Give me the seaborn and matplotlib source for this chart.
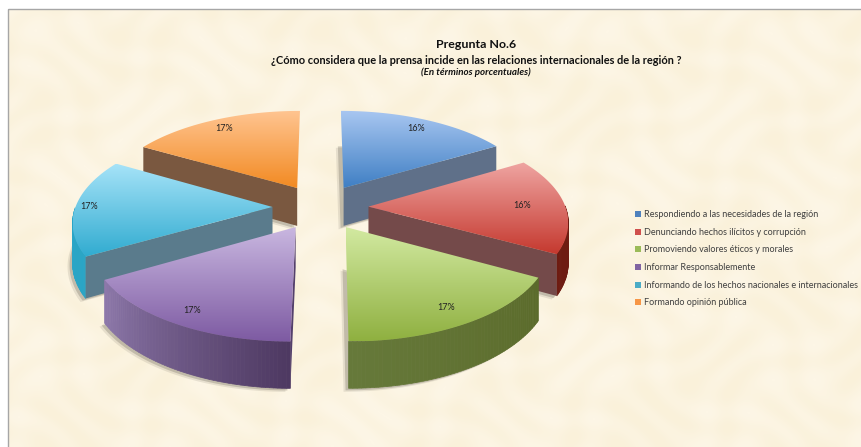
import numpy as np
import matplotlib
matplotlib.use("Agg")
import matplotlib.pyplot as plt
from matplotlib.patches import Polygon, Rectangle
import seaborn as sns

# Data
categories = [
    "Respondiendo a las necesidades de la región",
    "Denunciando hechos ilícitos y corrupción",
    "Promoviendo valores éticos y morales",
    "Informar Responsablemente",
    "Informando de los hechos nacionales e internacionales",
    "Formando opinión pública",
]
values = [16.49, 16.49, 17.1, 16.6, 16.66, 16.66]

top_light = ["#a9c7f1", "#efa5a2", "#d3eaa2", "#c9b7e0", "#a6e3f8", "#ffc592"]
top_dark = ["#3f7fc4", "#c5392f", "#8fb040", "#7d5aa2", "#30abd0", "#f28a22"]
face_colors = ["#5f7089", "#744a4a", "#5e6e2d", "#54406c", "#5a7b8c", "#7a5840"]
rim_start = ["#5f7089", "#6e1c12", "#5b6b2b", "#4e3962", "#2aa5c6", "#7a5840"]
rim_end = ["#5f7089", "#6e1c12", "#66793a", "#8d78aa", "#2aa5c6", "#7a5840"]
legend_colors = ["#4f81bd", "#d0504d", "#9bbb59", "#8064a2", "#4bacc6", "#f79646"]
label_radius = [0.86, 0.78, 0.85, 0.88, 0.93, 0.86]

# Pie geometry, pixels of the picture
center_x, center_y = 320.5, 207
radius, explode, depth = 197, 48, 39
tilt, persp = 0.47, 0.0007


def project(x, y):
    w = 1 + persp * y
    return center_x + x / w, center_y - tilt * y / w


def drop(y):
    return depth / (1 + persp * y)


sns.set_theme(style="white")
plt.rcParams["font.family"] = ["Lato", "DejaVu Sans"]

fig = plt.figure(figsize=(8.62, 4.47), dpi=100, facecolor="white")
ax = fig.add_axes([0, 0, 1, 1])
ax.axis("off")

# parchment background, faint mottling
gx, gy = np.meshgrid(np.arange(8, 862), np.arange(9, 447))
mottle = np.sin(gx / 13.0 + np.sin(gy / 19.0) * 2) * np.sin(gy / 11.0 + np.sin(gx / 23.0) * 2)
paper = sns.blend_palette(["#faf1da", "#fdf6e6"], as_cmap=True)
ax.imshow(mottle, cmap=paper, aspect="auto", extent=[8, 862, 447, 9], zorder=0)
ax.add_patch(Rectangle((8, 9), 870, 450, facecolor="none", edgecolor="#a6a6a6", lw=1, zorder=0.5))

shares = np.array(values) / sum(values) * 360
ends = np.cumsum(shares)
starts = ends - shares

# back slices first so the front ones overlap them
order = [5, 0, 4, 1, 3, 2]
z = 1
for i in order:
    a0, a1 = np.radians(starts[i]), np.radians(ends[i])
    mid = (a0 + a1) / 2
    ox, oy = explode * np.sin(mid), explode * np.cos(mid)
    t = np.linspace(a0, a1, 60)
    wx = ox + radius * np.sin(t)
    wy = oy + radius * np.cos(t)
    px, py = project(wx, wy)
    ax0, ay0 = project(ox, oy)
    d0 = drop(oy)
    dr = drop(wy)

    # soft shadow under the slice
    top_pts = np.column_stack([np.r_[ax0, px], np.r_[ay0, py]])
    low_pts = top_pts + np.column_stack([np.zeros(61), np.r_[d0, dr]])
    for off, alpha in [(5, 0.15), (3, 0.3)]:
        ax.add_patch(Polygon(low_pts + [-off, off * 0.7], facecolor="#6f6a5c", edgecolor="none", alpha=alpha, zorder=z))
    z += 1

    # rim, only the part that faces the viewer
    rim_pal = sns.blend_palette([rim_start[i], rim_end[i]], 59)
    for k in range(59):
        if np.cos((t[k] + t[k + 1]) / 2) < 0:
            quad = [(px[k], py[k]), (px[k + 1], py[k + 1]),
                    (px[k + 1], py[k + 1] + dr[k + 1]), (px[k], py[k] + dr[k])]
            ax.add_patch(Polygon(quad, facecolor=rim_pal[k], edgecolor=rim_pal[k], lw=0.5, zorder=z))
    z += 1

    # cut faces
    if np.sin(a1) > 0:
        k = -1
    elif np.sin(a0) < 0:
        k = 0
    else:
        k = None
    if k is not None:
        quad = [(ax0, ay0), (px[k], py[k]), (px[k], py[k] + dr[k]), (ax0, ay0 + d0)]
        ax.add_patch(Polygon(quad, facecolor=face_colors[i], edgecolor="none", zorder=z))
    z += 1

    # top surface with vertical gradient
    top = Polygon(top_pts, facecolor="none", edgecolor="none", zorder=z)
    ax.add_patch(top)
    cmap = sns.blend_palette([top_light[i], top_dark[i]], as_cmap=True)
    grad = np.linspace(0, 1, 256).reshape(-1, 1)
    im = ax.imshow(grad, cmap=cmap, aspect="auto", origin="upper", zorder=z,
                   extent=[top_pts[:, 0].min(), top_pts[:, 0].max(), top_pts[:, 1].max(), top_pts[:, 1].min()])
    im.set_clip_path(top)
    z += 1

    # percent label
    lx, ly = project(ox + label_radius[i] * radius * np.sin(mid), oy + label_radius[i] * radius * np.cos(mid))
    ax.text(lx, ly, f"{values[i]:.0f}%", ha="center", va="center", fontsize=6.5, color="#222222", zorder=50)

ax.set_xlim(0, 862)
ax.set_ylim(447, 0)

# Titles
ax.text(476, 45, "Pregunta No.6", ha="center", va="center", fontsize=8.9, fontweight="bold", color="#111111", zorder=50)
ax.text(476, 60, "¿Cómo considera que la prensa incide en las relaciones internacionales de la región ?",
        ha="center", va="center", fontsize=7.9, fontweight="bold", color="#111111", zorder=50)
ax.text(476, 72, "(En términos porcentuales)", ha="center", va="center", fontsize=7.0,
        fontweight="bold", fontstyle="italic", color="#111111", zorder=50)

# Legend
handles = [Rectangle((0, 0), 1, 1, facecolor=c, edgecolor="none") for c in legend_colors]
leg = ax.legend(handles, categories, loc="upper left", bbox_to_anchor=(635, 210), bbox_transform=ax.transData,
                frameon=False, fontsize=6.45, labelcolor="#404040", handlelength=0.65, handleheight=0.65,
                handletextpad=0.3, labelspacing=0.97, borderpad=0, borderaxespad=0)
leg.set_zorder(50)

fig.savefig("out.png", dpi=100)
